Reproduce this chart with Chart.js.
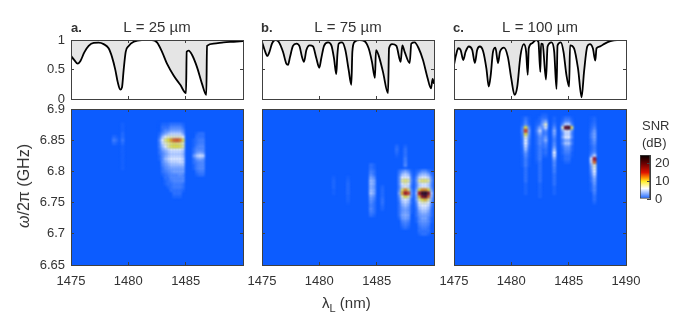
<!DOCTYPE html>
<html>
<head>
<meta charset="utf-8">
<script src="https://cdn.jsdelivr.net/npm/chart.js@4"></script>
<style>
  html, body { margin: 0; background: #fff; }
  body { width: 693px; height: 316px; position: relative; overflow: hidden; font-family: 'Liberation Sans', Helvetica, Arial, sans-serif; color: #333; }
  canvas { position: absolute; }
  .lbl { position: absolute; white-space: nowrap; line-height: 1; }
  .tag { font-weight: bold; font-size: 13px; top: 21px; }
</style>
</head>
<body>
<canvas id="top-a"></canvas><canvas id="top-b"></canvas><canvas id="top-c"></canvas>
<canvas id="heat-a"></canvas><canvas id="heat-b"></canvas><canvas id="heat-c"></canvas>
<canvas id="colorbar"></canvas>
<div class="lbl tag" style="left:71px">a.</div>
<div class="lbl tag" style="left:261px">b.</div>
<div class="lbl tag" style="left:453px">c.</div>
<div class="lbl" style="left:24px;top:186px;font-size:16px;transform:translate(-50%,-50%) rotate(-90deg)"><i>ω</i>/2π (GHz)</div>
<div class="lbl" style="left:322px;top:295px;font-size:15px">λ<sub style="font-size:11px">L</sub> (nm)</div>
<div class="lbl" style="left:642px;top:119px;font-size:13px">SNR</div>
<div class="lbl" style="left:642px;top:136px;font-size:13px">(dB)</div>
<script>
// transmission curves
const lambdaA = [1475,1475.29,1475.58,1475.81,1476.16,1476.54,1476.98,1477.41,1477.85,1478.28,1478.58,1478.87,1479.07,1479.3,1479.45,1479.59,1479.77,1480.03,1480.47,1481.19,1482.06,1482.5,1482.94,1483.37,1483.95,1484.53,1485.03,1485.09,1485.26,1485.55,1485.99,1486.42,1486.8,1486.86,1487.44,1488.31,1489.19,1490];
const transA = [.73,.66,.6,.64,.79,.9,.95,.954,.93,.86,.71,.49,.29,.16,.2,.49,.8,.9,.97,1,1,.96,.8,.6,.4,.24,.1,.8,.82,.75,.54,.26,.07,.9,.94,.96,.97,.98];

const lambdaB = [1475,1475.23,1475.47,1475.67,1475.87,1476.16,1476.45,1476.83,1477.12,1477.27,1477.44,1477.7,1478,1478.28,1478.49,1478.66,1478.87,1479.16,1479.45,1479.74,1480,1480.17,1480.41,1480.76,1481.05,1481.28,1481.48,1481.57,1481.69,1481.98,1482.27,1482.56,1482.79,1482.88,1483.08,1483.52,1483.95,1484.3,1484.59,1484.85,1484.94,1485.17,1485.55,1485.99,1486.08,1486.34,1486.72,1487.09,1487.24,1487.44,1487.88,1488.02,1488.31,1488.66,1489.04,1489.42,1489.74,1489.88,1490];
const transB = [.97,.83,.73,.81,.94,1,.97,.8,.6,.58,.71,.9,.94,.89,.71,.63,.83,.91,.89,.69,.53,.69,.9,.96,.91,.69,.42,.74,.94,.96,.83,.49,.24,.8,.97,1,.98,.86,.63,.36,.83,.74,.46,.1,.86,.93,.9,.63,.91,.8,.61,.94,.96,.86,.66,.37,.18,.34,.26];

const lambdaC = [1475,1475.17,1475.37,1475.58,1475.81,1476.01,1476.3,1476.59,1476.82,1477.02,1477.25,1477.54,1477.83,1478.03,1478.2,1478.4,1478.61,1478.84,1479.01,1479.36,1479.7,1480,1480.28,1480.51,1480.8,1481.09,1481.29,1481.43,1481.52,1481.78,1482.15,1482.36,1482.53,1482.59,1482.73,1483.02,1483.16,1483.51,1483.74,1483.94,1484.03,1484.32,1484.55,1484.81,1485.04,1485.12,1485.47,1485.82,1486.13,1486.34,1486.62,1486.85,1487.11,1487.32,1487.43,1487.72,1488.07,1488.64,1489.22,1490];
const transC = [.58,.74,.86,.83,.66,.8,.89,.83,.61,.83,.89,.81,.51,.21,.4,.8,.87,.61,.8,.87,.71,.34,.07,.2,.74,.93,.8,.41,.86,.94,1,.97,.46,.94,.93,.33,.89,.96,.8,.17,.91,.96,.8,.4,.21,.91,.86,.51,.03,.46,.89,.93,.86,.65,.86,.89,.93,.98,1,1];

// SNR maps: [wavelength, top frequency of the run, SNR going down in 0.005 GHz rows]
const heatA = [
  [1478.75, 6.855, [.7, 1.5, .7]],
  [1479, 6.855, [.3, .7, .3]],
  [1479.5, 6.875, [.3, .3, .3, .7, .7, 1.2, .7, .3, .3, .3, .3, .3, .3, .3, .3]],
  [1482.75, 6.875, [0, 0, 0, .5, 1, 2, 1.5, 1.5, 1, 1, .5, .5]],
  [1483, 6.875, [.5, 1, 1, 2, 4, 6, 5, 4, 3, 2, 2, 2, 2, 1.5, 1, 1, .5]],
  [1483.25, 6.875, [.5, 1, 2, 3, 6, 8.5, 7, 6, 4, 3, 3, 4, 3, 2.5, 2, 1.5, 1, 1, .5, .5]],
  [1483.5, 6.875, [.5, 1, 2, 4, 7, 10, 8, 8, 5, 4, 4, 5, 4, 3, 2.5, 2, 1.5, 1, 1, 1, .5]],
  [1483.75, 6.875, [1, 2, 3, 5, 7, 11.5, 8.5, 9.5, 6, 5, 5, 6, 5, 4, 3, 2.5, 2, 2, 1.5, 1, 1, 1]],
  [1484, 6.875, [1, 2, 3, 5, 7, 13, 9, 10, 6, 5, 5, 6, 5, 4, 3, 3, 2, 2, 2, 1.5, 1.5, 1, 1, .5]],
  [1484.25, 6.875, [1, 2, 3, 5, 7, 13.5, 8.5, 10, 6, 5, 5, 6, 5, 4, 3, 3, 2, 2, 2, 1.5, 1.5, 1, 1, .5]],
  [1484.5, 6.875, [1, 2, 3, 5, 7, 12.5, 8.5, 9.5, 6, 5, 5, 6, 5.5, 4, 3, 3, 2.5, 2, 2, 1.5, 1.5, 1, 1, .5]],
  [1484.75, 6.875, [.5, 1, 2, 3, 6, 9.5, 7, 8, 5, 4, 4, 5, 5, 4, 3, 3, 2, 2, 2, 1, 1, .5]],
  [1485.75, 6.86, [0, 0, .5, .5, .5, 1, 1, 2.5, 1, 1, .5, .5]],
  [1486, 6.86, [.5, 1, 1, 1, 1.5, 2, 2.5, 4.5, 2.5, 1.5, 1.5, 1.5, 1, .5]],
  [1486.25, 6.86, [1, 1, 1.5, 1.5, 2, 2, 3, 5.5, 3, 2, 2, 2, 1.5, 1]],
  [1486.5, 6.86, [1, 1, 1.5, 1.5, 2, 2, 2.5, 5, 2.5, 2, 2, 2, 1.5, 1]]
];
const heatB = [
  [1481.25, 6.79, [.3, .5, .5, .5, .3, .3]],
  [1482.5, 6.79, [.3, .5, .7, .7, .7, .7, .5, .5, .3]],
  [1484.5, 6.81, [1, 1, 1.5, 2, 3, 4, 4, 3.5, 4, 4.5, 3, 2.5, 2, 1.5, 2, 1.5, 1]],
  [1484.75, 6.81, [.5, .5, 1, 1, 2, 3, 3, 2.5, 3, 3, 2, 1.5, 1, 1, 1, 1, .5]],
  [1485.5, 6.775, [.5, .7, .7, .7, 1, 1, .7, .5]],
  [1486.75, 6.84, [.7, 1, .7, .3]],
  [1487, 6.8, [1, 1.5, 2, 2, 2, 1.5, 2, 3, 2, 1.5, 1, 1, 1, 1, 1, .5]],
  [1487.25, 6.8, [2, 4, 6, 8, 6, 5, 9, 11, 7, 5, 4, 3, 2.5, 2.5, 3, 2.5, 1.5, 1, .5]],
  [1487.5, 6.84, [.5, 1, 1, 1, 1.5, 1.5, 2]],
  [1487.5, 6.8, [3, 5, 6, 9, 7, 6, 12, 17, 10, 6, 5, 4, 3, 3, 3.5, 3, 2, 1.5, 1]],
  [1487.75, 6.8, [2, 4, 6, 8, 6, 5, 9, 14, 8, 5, 4, 3, 2.5, 2.5, 3, 2.5, 1.5, 1, .5]],
  [1488, 6.8, [.5, 1, 1.5, 2, 1.5, 1, 2, 2.5, 2, 1, 1, .5, .5, .5]],
  [1488.5, 6.8, [.5, 1, 2, 2.5, 2, 2, 3, 4, 3, 3, 2, 1.5, 1, 1, 1, .5, .5]],
  [1488.75, 6.8, [1, 3, 5, 8, 5, 5, 10, 16, 11, 8, 6, 5, 4, 3, 2.5, 2, 2, 1.5, 1, 1, .5]],
  [1489, 6.8, [2, 4, 6, 9, 6, 6, 12, 22, 18, 10, 7, 6, 5, 4, 3, 3, 2.5, 2, 1.5, 1, 1]],
  [1489.25, 6.8, [2, 4, 6, 9, 6, 6, 12, 23, 20, 11, 7, 6, 5, 4, 3, 3, 2.5, 2, 1.5, 1, 1]],
  [1489.5, 6.8, [1, 3, 5, 8, 5, 5, 10, 18, 13, 8, 6, 5, 4, 3, 2.5, 2, 2, 1.5, 1, 1, .5]],
  [1489.75, 6.8, [.5, 1, 2, 2.5, 2, 2, 3, 5, 4, 3, 2, 1.5, 1, 1, 1, .5, .5]]
];
const heatC = [
  [1481, 6.885, [.3, .3, .5, 1.5, 2, 1.5, 1.2, 1, 1, .7, .5, .5, .3, .3, .3, .3]],
  [1481.25, 6.885, [1, 1.5, 2, 10, 14, 10, 7, 6, 6, 5, 4, 2.5, 2, 1.5, 1.5, 1.5, 1, 1, 1, 1, 1, .5, .5, .5, .5]],
  [1481.5, 6.885, [.3, .3, .5, 2, 3, 2.5, 2, 1.5, 1.5, 1, .7, .5, .5, .3, .3, .3]],
  [1482.25, 6.885, [0, .3, .5, 1, 1.5, 1, .7, .7, .7, .5, .5, .5, .5, .5, .3]],
  [1482.5, 6.885, [.5, .5, 1, 3, 5, 3, 2, 2, 2, 1.5, 1.5, 1.5, 1.5, 1.5, 1, 1, 1, 1, 1, 1, 1, .5, .5, .5, .5, .5]],
  [1482.75, 6.89, [.5, 1, 2, 3, 2, 1, 1, 1.5, 1.5, 1, 1, .5, .5, .3]],
  [1483, 6.89, [.5, 1, 3, 7, 5, 2, 1.5, 2.5, 3.5, 2, 1.5, 1, 1, .5]],
  [1483.75, 6.885, [.5, .5, 1, 2, 3.5, 3, 2, 1.5, 2, 2.5, 4, 6, 5, 3, 2, 2, 1.5, 1.5, 1, 1, 1, 1, .5, .5, .5]],
  [1484.5, 6.885, [.3, .7, 2, 7, 3, 2, 3, 1.5, 2, 1, .7, .7, .3, .3]],
  [1484.75, 6.885, [1, 2, 5, 20, 6, 5, 6, 3, 4.5, 2.5, 2, 1.5, 1, 1, .5]],
  [1485, 6.885, [1, 2, 5, 21, 6, 5, 6, 3, 4.5, 2.5, 2, 1.5, 1, 1, .5]],
  [1485.25, 6.885, [.3, .7, 1.5, 9, 2, 1.5, 2, 1, 1.5, .7, .7, .3, .3]],
  [1487, 6.885, [.3, .3, .5, .7, 1, 1.5, 1.5, 1, 1, .7, .7, 1, 2, 6, 5, 3, 2.5, 2, 1.5, 1, 1, .5, .5, .5]],
  [1487.25, 6.885, [.5, .7, 1, 1.5, 2.5, 3, 3, 2.5, 2, 1.5, 1.5, 2, 5, 17, 13, 7, 6.5, 6, 5, 3.5, 3, 2.5, 2, 2, 1.5, 1, 1, .5]]
];

const snrStops = [0, 6, 10, 12, 15, 20, 25];
const snrColors = [[12, 92, 255], [255, 255, 255], [255, 238, 40], [255, 150, 0], [225, 20, 0], [110, 0, 0], [0, 0, 0]];
const snrTicks = [0, 10, 20];

const panelTitles = ['L = 25 µm', 'L = 75 µm', 'L = 100 µm'];
const panelLefts = [71, 262, 454];
const wavelengthLabels = [[1475, 1480, 1485], [1475, 1480, 1485], [1475, 1480, 1485, 1490]];
const transTicks = [0, 0.5, 1];
const freqTicks = [6.65, 6.7, 6.75, 6.8, 6.85, 6.9];

const INK = '#404040';
const FONT = "'Liberation Sans', Helvetica, Arial, sans-serif";
const marginLeft = 45, marginRight = 30;

Chart.defaults.font.family = FONT;
Chart.defaults.color = '#333';

function snrColor(v) {
  let i = 0;
  while (i < snrStops.length - 2 && v > snrStops[i + 1]) i++;
  const t = Math.min(1, (v - snrStops[i]) / (snrStops[i + 1] - snrStops[i]));
  const c = snrColors[i].map((a, k) => Math.round(a + (snrColors[i + 1][k] - a) * t));
  return `rgb(${c[0]},${c[1]},${c[2]})`;
}

function placeCanvas(id, left, top, width, height) {
  const el = document.getElementById(id);
  el.width = width;
  el.height = height;
  el.style.left = left + 'px';
  el.style.top = top + 'px';
  return el.getContext('2d');
}

// one axis with MATLAB style inward ticks; size fixes the room it takes in the layout
function axis(position, size, min, max, step, labels, padding) {
  return {
    type: 'linear',
    position, min, max,
    afterFit: s => {
      if (s.isHorizontal()) s.height = size; else s.width = size;
    },
    afterBuildTicks: s => {
      s.ticks = [];
      for (let v = min; v <= max + 1e-6; v += step) s.ticks.push({ value: +v.toFixed(4) });
    },
    border: { color: INK, width: 1, z: 2 },
    grid: { drawOnChartArea: false, color: INK, tickLength: -3, tickWidth: 1, z: 2 },
    ticks: {
      display: !!labels,
      autoSkip: false,
      maxRotation: 0,
      padding: padding || 0,
      font: { size: 13 },
      color: '#333',
      callback: v => (labels && labels.some(l => Math.abs(l - v) < 1e-6) ? String(+v.toFixed(2)) : '')
    }
  };
}

function renderTop(id, panel, lambda, trans) {
  const ctx = placeCanvas(id, panelLefts[panel] - marginLeft, 16, marginLeft + 172 + marginRight, 24 + 59 + 20);
  new Chart(ctx, {
    type: 'line',
    data: {
      datasets: [{
        data: lambda.map((x, i) => ({ x, y: trans[i] })),
        borderColor: '#000',
        borderWidth: 1.8,
        backgroundColor: '#e5e5e5',
        fill: 'end',
        pointRadius: 0,
        cubicInterpolationMode: 'monotone'
      }]
    },
    options: {
      responsive: false,
      animation: false,
      plugins: {
        legend: { display: false },
        tooltip: { enabled: false },
        title: { display: true, text: panelTitles[panel], fullSize: false, font: { size: 15, weight: 'normal' }, color: '#333', padding: { top: 3, bottom: 3 } }
      },
      scales: {
        x: axis('bottom', 20, 1475, 1490, 5, null),
        y: axis('left', marginLeft, 0, 1, 0.5, panel === 0 ? transTicks : null, 9),
        xTop: axis('top', 0, 1475, 1490, 5, null),
        yRight: axis('right', marginRight, 0, 1, 0.5, null)
      }
    }
  });
}

const heatPlugin = {
  id: 'heatBase',
  beforeDatasetsDraw(chart) {
    const a = chart.chartArea;
    chart.ctx.fillStyle = snrColor(0);
    chart.ctx.fillRect(a.left, a.top, a.width, a.height);
    chart.ctx.filter = 'blur(0.8px)';
  },
  afterDatasetsDraw(chart) {
    chart.ctx.filter = 'none';
  }
};

function renderHeat(id, panel, columns) {
  const ctx = placeCanvas(id, panelLefts[panel] - marginLeft, 89, marginLeft + 172 + marginRight, 20 + 156 + 25);
  const cells = [];
  columns.forEach(([lam, fTop, vals]) => {
    vals.forEach((v, i) => cells.push({ x: lam, y: +(fTop - i * 0.005).toFixed(3), v }));
  });
  cells.sort((a, b) => a.v - b.v);
  new Chart(ctx, {
    type: 'scatter',
    data: {
      datasets: [{
        data: cells,
        pointStyle: 'rect',
        pointRadius: 2.4,
        pointBorderWidth: 0,
        pointBackgroundColor: c => snrColor(c.raw.v)
      }]
    },
    options: {
      responsive: false,
      animation: false,
      plugins: { legend: { display: false }, tooltip: { enabled: false } },
      scales: {
        x: axis('bottom', 25, 1475, 1490, 5, wavelengthLabels[panel], 12),
        y: axis('left', marginLeft, 6.65, 6.9, 0.05, panel === 0 ? freqTicks : null, 9),
        xTop: axis('top', 20, 1475, 1490, 5, null),
        yRight: axis('right', marginRight, 6.65, 6.9, 0.05, null)
      }
    },
    plugins: [heatPlugin]
  });
}

function renderColorbar() {
  const ctx = placeCanvas('colorbar', 630, 135, 60, 84);
  new Chart(ctx, {
    type: 'bar',
    data: {
      labels: ['SNR'],
      datasets: [{
        data: [[snrStops[0], snrStops[snrStops.length - 1]]],
        barPercentage: 1,
        categoryPercentage: 1,
        borderColor: INK,
        borderWidth: 1,
        borderSkipped: false,
        backgroundColor: c => {
          const a = c.chart.chartArea;
          if (!a) return '#888';
          const g = c.chart.ctx.createLinearGradient(0, a.bottom, 0, a.top);
          snrStops.forEach(s => g.addColorStop(s / 25, snrColor(s)));
          return g;
        }
      }]
    },
    options: {
      responsive: false,
      animation: false,
      layout: { padding: { left: 10, right: 0, top: 20, bottom: 20 } },
      plugins: { legend: { display: false }, tooltip: { enabled: false } },
      scales: {
        x: { display: false },
        y: axis('right', 40, 0, 25, 10, snrTicks, 8)
      }
    }
  });
}

renderTop('top-a', 0, lambdaA, transA);
renderTop('top-b', 1, lambdaB, transB);
renderTop('top-c', 2, lambdaC, transC);
renderHeat('heat-a', 0, heatA);
renderHeat('heat-b', 1, heatB);
renderHeat('heat-c', 2, heatC);
renderColorbar();
</script>
</body>
</html>
